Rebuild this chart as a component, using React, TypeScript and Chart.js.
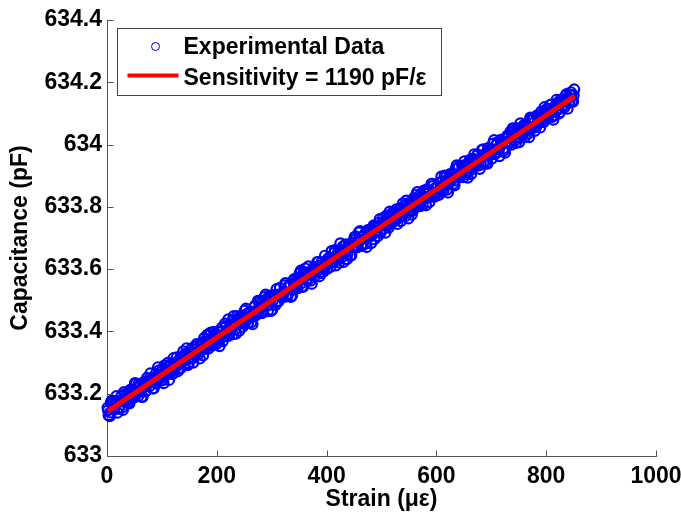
import React, { useEffect, useRef } from "react";
import { Chart, registerables } from "chart.js";

Chart.register(...registerables);

// Measured strain (µε), run 1
const strainRun1: number[] = [
  1, 5, 9, 13, 17, 21, 25, 29, 33, 37,
  41, 45, 49, 53, 57, 61, 65, 69, 73, 77,
  81, 85, 89, 93, 97, 101, 105, 109, 113, 117,
  121, 125, 129, 133, 137, 141, 145, 149, 153, 157,
  161, 165, 169, 173, 177, 181, 185, 189, 193, 197,
  201, 205, 209, 213, 217, 221, 225, 229, 233, 237,
  241, 245, 249, 253, 257, 261, 265, 269, 273, 277,
  281, 285, 289, 293, 297, 301, 305, 309, 313, 317,
  321, 325, 329, 333, 337, 341, 345, 349, 353, 357,
  361, 365, 369, 373, 377, 381, 385, 389, 393, 397,
  401, 405, 409, 413, 417, 421, 425, 429, 433, 437,
  441, 445, 449, 453, 457, 461, 465, 469, 473, 477,
  481, 485, 489, 493, 497, 501, 505, 509, 513, 517,
  521, 525, 529, 533, 537, 541, 545, 549, 553, 557,
  561, 565, 569, 573, 577, 581, 585, 589, 593, 597,
  601, 605, 609, 613, 617, 621, 625, 629, 633, 637,
  641, 645, 649, 653, 657, 661, 665, 669, 673, 677,
  681, 685, 689, 693, 697, 701, 705, 709, 713, 717,
  721, 725, 729, 733, 737, 741, 745, 749, 753, 757,
  761, 765, 769, 773, 777, 781, 785, 789, 793, 797,
  801, 805, 809, 813, 817, 821, 825, 829, 833, 837,
  841, 845, 849,
];

// Measured capacitance (pF), run 1
const capacitanceRun1: number[] = [
  633.155, 633.128, 633.178, 633.149, 633.192, 633.152, 633.175, 633.148, 633.199, 633.181,
  633.169, 633.205, 633.198, 633.232, 633.193, 633.229, 633.190, 633.230, 633.251, 633.223,
  633.242, 633.217, 633.264, 633.285, 633.248, 633.243, 633.291, 633.269, 633.244, 633.292,
  633.314, 633.284, 633.272, 633.313, 633.306, 633.296, 633.346, 633.298, 633.332, 633.300,
  633.324, 633.358, 633.313, 633.353, 633.379, 633.354, 633.345, 633.396, 633.359, 633.392,
  633.388, 633.353, 633.412, 633.383, 633.417, 633.439, 633.404, 633.391, 633.421, 633.449,
  633.402, 633.448, 633.438, 633.473, 633.428, 633.462, 633.423, 633.480, 633.459, 633.495,
  633.492, 633.470, 633.518, 633.465, 633.499, 633.470, 633.517, 633.536, 633.498, 633.516,
  633.519, 633.555, 633.515, 633.548, 633.515, 633.568, 633.544, 633.560, 633.595, 633.543,
  633.602, 633.563, 633.588, 633.553, 633.606, 633.594, 633.623, 633.587, 633.603, 633.643,
  633.601, 633.627, 633.658, 633.623, 633.612, 633.654, 633.683, 633.640, 633.676, 633.632,
  633.676, 633.644, 633.673, 633.705, 633.671, 633.722, 633.675, 633.707, 633.671, 633.723,
  633.683, 633.736, 633.736, 633.706, 633.761, 633.730, 633.740, 633.772, 633.733, 633.763,
  633.783, 633.761, 633.745, 633.792, 633.770, 633.789, 633.820, 633.763, 633.810, 633.788,
  633.797, 633.847, 633.804, 633.825, 633.852, 633.805, 633.853, 633.836, 633.874, 633.833,
  633.859, 633.839, 633.897, 633.853, 633.884, 633.846, 633.905, 633.901, 633.869, 633.933,
  633.930, 633.901, 633.895, 633.933, 633.894, 633.951, 633.921, 633.969, 633.939, 633.933,
  633.936, 633.985, 633.967, 633.939, 633.983, 633.955, 634.014, 633.975, 633.989, 634.015,
  634.011, 633.974, 634.028, 634.008, 634.000, 634.051, 634.005, 634.035, 634.068, 634.031,
  634.024, 634.060, 634.024, 634.083, 634.082, 634.061, 634.081, 634.055, 634.099, 634.120,
  634.114, 634.097, 634.128, 634.080, 634.107, 634.135, 634.104, 634.137, 634.119, 634.162,
  634.134, 634.168, 634.138,
];

// Measured strain (µε), run 2
const strainRun2: number[] = [
  3, 7, 11, 15, 19, 23, 27, 31, 35, 39,
  43, 47, 51, 55, 59, 63, 67, 71, 75, 79,
  83, 87, 91, 95, 99, 103, 107, 111, 115, 119,
  123, 127, 131, 135, 139, 143, 147, 151, 155, 159,
  163, 167, 171, 175, 179, 183, 187, 191, 195, 199,
  203, 207, 211, 215, 219, 223, 227, 231, 235, 239,
  243, 247, 251, 255, 259, 263, 267, 271, 275, 279,
  283, 287, 291, 295, 299, 303, 307, 311, 315, 319,
  323, 327, 331, 335, 339, 343, 347, 351, 355, 359,
  363, 367, 371, 375, 379, 383, 387, 391, 395, 399,
  403, 407, 411, 415, 419, 423, 427, 431, 435, 439,
  443, 447, 451, 455, 459, 463, 467, 471, 475, 479,
  483, 487, 491, 495, 499, 503, 507, 511, 515, 519,
  523, 527, 531, 535, 539, 543, 547, 551, 555, 559,
  563, 567, 571, 575, 579, 583, 587, 591, 595, 599,
  603, 607, 611, 615, 619, 623, 627, 631, 635, 639,
  643, 647, 651, 655, 659, 663, 667, 671, 675, 679,
  683, 687, 691, 695, 699, 703, 707, 711, 715, 719,
  723, 727, 731, 735, 739, 743, 747, 751, 755, 759,
  763, 767, 771, 775, 779, 783, 787, 791, 795, 799,
  803, 807, 811, 815, 819, 823, 827, 831, 835, 839,
  843, 847, 851,
];

// Measured capacitance (pF), run 2
const capacitanceRun2: number[] = [
  633.131, 633.172, 633.152, 633.176, 633.139, 633.177, 633.155, 633.205, 633.174, 633.201,
  633.213, 633.186, 633.234, 633.201, 633.222, 633.190, 633.237, 633.209, 633.235, 633.265,
  633.217, 633.251, 633.235, 633.275, 633.271, 633.234, 633.271, 633.299, 633.267, 633.263,
  633.293, 633.317, 633.280, 633.300, 633.336, 633.328, 633.292, 633.330, 633.313, 633.350,
  633.359, 633.335, 633.360, 633.323, 633.344, 633.390, 633.372, 633.354, 633.399, 633.359,
  633.367, 633.400, 633.369, 633.425, 633.399, 633.394, 633.432, 633.449, 633.393, 633.432,
  633.446, 633.415, 633.467, 633.437, 633.461, 633.430, 633.464, 633.451, 633.498, 633.472,
  633.459, 633.510, 633.483, 633.510, 633.466, 633.515, 633.485, 633.517, 633.540, 633.511,
  633.548, 633.518, 633.544, 633.511, 633.562, 633.553, 633.538, 633.587, 633.544, 633.580,
  633.566, 633.609, 633.563, 633.600, 633.589, 633.623, 633.577, 633.622, 633.600, 633.622,
  633.635, 633.607, 633.633, 633.661, 633.633, 633.621, 633.660, 633.623, 633.680, 633.673,
  633.643, 633.685, 633.703, 633.674, 633.718, 633.677, 633.704, 633.682, 633.725, 633.709,
  633.728, 633.696, 633.718, 633.749, 633.721, 633.764, 633.717, 633.753, 633.785, 633.748,
  633.754, 633.792, 633.783, 633.754, 633.811, 633.770, 633.788, 633.813, 633.775, 633.828,
  633.838, 633.809, 633.839, 633.805, 633.827, 633.856, 633.815, 633.874, 633.838, 633.862,
  633.838, 633.879, 633.859, 633.900, 633.855, 633.894, 633.884, 633.874, 633.921, 633.895,
  633.901, 633.932, 633.946, 633.906, 633.939, 633.905, 633.954, 633.931, 633.968, 633.922,
  633.982, 633.942, 633.940, 633.979, 633.967, 634.003, 633.969, 634.006, 633.963, 634.000,
  633.980, 634.021, 634.003, 634.042, 634.052, 634.013, 634.052, 634.008, 634.036, 634.062,
  634.066, 634.035, 634.087, 634.052, 634.044, 634.093, 634.071, 634.106, 634.072, 634.091,
  634.085, 634.127, 634.089, 634.121, 634.144, 634.099, 634.139, 634.124, 634.156, 634.115,
  634.160, 634.140, 634.177,
];

// Measured strain (µε), run 3
const strainRun3: number[] = [
  2, 6, 10, 14, 18, 22, 26, 30, 34, 38,
  42, 46, 50, 54, 58, 62, 66, 70, 74, 78,
  82, 86, 90, 94, 98, 102, 106, 110, 114, 118,
  122, 126, 130, 134, 138, 142, 146, 150, 154, 158,
  162, 166, 170, 174, 178, 182, 186, 190, 194, 198,
  202, 206, 210, 214, 218, 222, 226, 230, 234, 238,
  242, 246, 250, 254, 258, 262, 266, 270, 274, 278,
  282, 286, 290, 294, 298, 302, 306, 310, 314, 318,
  322, 326, 330, 334, 338, 342, 346, 350, 354, 358,
  362, 366, 370, 374, 378, 382, 386, 390, 394, 398,
  402, 406, 410, 414, 418, 422, 426, 430, 434, 438,
  442, 446, 450, 454, 458, 462, 466, 470, 474, 478,
  482, 486, 490, 494, 498, 502, 506, 510, 514, 518,
  522, 526, 530, 534, 538, 542, 546, 550, 554, 558,
  562, 566, 570, 574, 578, 582, 586, 590, 594, 598,
  602, 606, 610, 614, 618, 622, 626, 630, 634, 638,
  642, 646, 650, 654, 658, 662, 666, 670, 674, 678,
  682, 686, 690, 694, 698, 702, 706, 710, 714, 718,
  722, 726, 730, 734, 738, 742, 746, 750, 754, 758,
  762, 766, 770, 774, 778, 782, 786, 790, 794, 798,
  802, 806, 810, 814, 818, 822, 826, 830, 834, 838,
  842, 846, 850,
];

// Measured capacitance (pF), run 3
const capacitanceRun3: number[] = [
  633.147, 633.140, 633.168, 633.154, 633.171, 633.156, 633.192, 633.176, 633.188, 633.171,
  633.185, 633.213, 633.189, 633.208, 633.232, 633.211, 633.230, 633.207, 633.242, 633.236,
  633.250, 633.242, 633.232, 633.260, 633.252, 633.281, 633.258, 633.276, 633.292, 633.274,
  633.275, 633.301, 633.300, 633.282, 633.320, 633.308, 633.324, 633.313, 633.345, 633.329,
  633.341, 633.325, 633.343, 633.366, 633.345, 633.363, 633.387, 633.357, 633.374, 633.388,
  633.378, 633.400, 633.400, 633.386, 633.403, 633.386, 633.422, 633.420, 633.406, 633.441,
  633.439, 633.429, 633.424, 633.456, 633.446, 633.461, 633.447, 633.484, 633.463, 633.476,
  633.464, 633.487, 633.502, 633.484, 633.515, 633.499, 633.516, 633.495, 633.519, 633.511,
  633.527, 633.512, 633.542, 633.552, 633.533, 633.557, 633.550, 633.574, 633.555, 633.590,
  633.590, 633.582, 633.571, 633.588, 633.577, 633.607, 633.599, 633.612, 633.592, 633.624,
  633.615, 633.637, 633.622, 633.652, 633.642, 633.631, 633.656, 633.673, 633.652, 633.649,
  633.678, 633.670, 633.693, 633.670, 633.692, 633.694, 633.680, 633.714, 633.704, 633.720,
  633.707, 633.741, 633.724, 633.735, 633.718, 633.750, 633.748, 633.738, 633.767, 633.754,
  633.776, 633.757, 633.777, 633.796, 633.775, 633.786, 633.808, 633.782, 633.803, 633.815,
  633.808, 633.824, 633.802, 633.835, 633.844, 633.829, 633.843, 633.832, 633.867, 633.845,
  633.865, 633.849, 633.879, 633.870, 633.897, 633.873, 633.892, 633.906, 633.885, 633.902,
  633.896, 633.914, 633.933, 633.912, 633.912, 633.942, 633.930, 633.948, 633.965, 633.948,
  633.957, 633.942, 633.972, 633.989, 633.968, 633.983, 633.971, 634.000, 633.984, 634.008,
  633.987, 634.008, 634.024, 634.006, 634.028, 634.043, 634.024, 634.045, 634.022, 634.049,
  634.057, 634.049, 634.048, 634.079, 634.071, 634.058, 634.090, 634.081, 634.094, 634.082,
  634.094, 634.115, 634.111, 634.094, 634.125, 634.113, 634.144, 634.125, 634.146, 634.145,
  634.138, 634.160, 634.158,
];

// Linear fit endpoints
const fitStrain: number[] = [2, 852];
const fitCapacitance: number[] = [633.144, 634.156];

const xTicks: number[] = [0, 200, 400, 600, 800, 1000];
const yTicks: number[] = [633, 633.2, 633.4, 633.6, 633.8, 634, 634.2, 634.4];

const legendLabels: string[] = ["Experimental Data", "Sensitivity = 1190 pF/\u03b5"];
const xTitle = "Strain (\u03bc\u03b5)";
const yTitle = "Capacitance (pF)";

const FONT = "'Liberation Sans', Arial, Helvetica, sans-serif";
const FONT_SIZE = 23;
const AXIS_COLOR = "#555555";

const inwardTicks = {
  id: "inwardTicks",
  afterDatasetsDraw(chart: any) {
    const { ctx, scales } = chart;
    const x = scales.x;
    const y = scales.y;
    ctx.save();
    ctx.strokeStyle = AXIS_COLOR;
    ctx.lineWidth = 1;
    ctx.beginPath();
    for (const v of xTicks) {
      const px = Math.round(x.getPixelForValue(v)) + 0.5;
      const py = Math.round(y.bottom) + 0.5;
      ctx.moveTo(px, py);
      ctx.lineTo(px, py - 6);
    }
    for (const v of yTicks) {
      const py = Math.round(y.getPixelForValue(v)) + 0.5;
      const px = Math.round(x.left) + 0.5;
      ctx.moveTo(px, py);
      ctx.lineTo(px + 6, py);
    }
    ctx.stroke();
    ctx.restore();
  },
};

const customLegend = {
  id: "customLegend",
  afterDraw(chart: any) {
    const { ctx, chartArea } = chart;
    const bx = chartArea.left + 10.5;
    const by = chartArea.top + 8.5;
    const bw = 324;
    const bh = 67;
    ctx.save();
    ctx.fillStyle = "#ffffff";
    ctx.fillRect(bx, by, bw, bh);
    ctx.strokeStyle = "#444444";
    ctx.lineWidth = 1;
    ctx.strokeRect(bx, by, bw, bh);

    ctx.beginPath();
    ctx.arc(bx + 38, by + 18, 4, 0, Math.PI * 2);
    ctx.strokeStyle = "#0000ff";
    ctx.lineWidth = 1;
    ctx.stroke();

    ctx.beginPath();
    ctx.moveTo(bx + 10, by + 47);
    ctx.lineTo(bx + 61, by + 47);
    ctx.strokeStyle = "#ff0000";
    ctx.lineWidth = 4;
    ctx.stroke();

    ctx.fillStyle = "#000000";
    ctx.font = `bold ${FONT_SIZE}px ${FONT}`;
    ctx.textAlign = "left";
    ctx.textBaseline = "middle";
    ctx.fillText(legendLabels[0], bx + 66, by + 19);
    ctx.fillText(legendLabels[1], bx + 66, by + 50);
    ctx.restore();
  },
};

export default function App() {
  const canvasRef = useRef<HTMLCanvasElement | null>(null);

  useEffect(() => {
    const canvas = canvasRef.current;
    if (!canvas) return;
    const scatterPoints = [
      ...strainRun1.map((s, i) => ({ x: s, y: capacitanceRun1[i] })),
      ...strainRun3.map((s, i) => ({ x: s, y: capacitanceRun3[i] })),
      ...strainRun2.map((s, i) => ({ x: s, y: capacitanceRun2[i] })),
    ].sort((a, b) => a.x - b.x);
    const fitPoints = fitStrain.map((s, i) => ({ x: s, y: fitCapacitance[i] }));

    const chart = new Chart(canvas, {
      type: "scatter",
      data: {
        datasets: [
          {
            label: legendLabels[1],
            data: fitPoints,
            showLine: true,
            borderColor: "#ff0000",
            backgroundColor: "#ff0000",
            borderWidth: 5,
            pointRadius: 0,
            clip: false,
            order: 0,
          } as any,
          {
            label: legendLabels[0],
            data: scatterPoints,
            pointStyle: "circle",
            pointRadius: 5,
            borderColor: "#0000ff",
            backgroundColor: "rgba(0,0,0,0)",
            borderWidth: 2.2,
            clip: false,
            order: 1,
          } as any,
        ],
      },
      options: {
        responsive: false,
        animation: false,
        devicePixelRatio: 1,
        layout: { padding: { left: 0, right: 25, top: 20, bottom: 0 } },
        plugins: {
          legend: { display: false },
          tooltip: { enabled: false },
          title: { display: false },
        },
        scales: {
          x: {
            type: "linear",
            min: 0,
            max: 1000,
            afterBuildTicks: (scale: any) => {
              scale.ticks = xTicks.map((v) => ({ value: v }));
            },
            afterFit: (scale: any) => {
              scale.height = 61;
              scale.paddingLeft = 0;
              scale.paddingRight = 0;
            },
            grid: { display: false, drawTicks: false },
            border: { display: true, color: AXIS_COLOR, width: 1 },
            ticks: {
              color: "#000000",
              font: { family: FONT, size: FONT_SIZE, weight: "bold" },
              padding: 7,
              maxRotation: 0,
              autoSkip: false,
              callback: (v: any) => String(v),
            },
            title: {
              display: true,
              text: xTitle,
              color: "#000000",
              font: { family: FONT, size: FONT_SIZE, weight: "bold" },
              padding: { top: 0, bottom: 4 },
            },
          },
          y: {
            type: "linear",
            min: 633,
            max: 634.4,
            afterBuildTicks: (scale: any) => {
              scale.ticks = yTicks.map((v) => ({ value: v }));
            },
            afterFit: (scale: any) => {
              scale.width = 107;
              scale.paddingTop = 0;
              scale.paddingBottom = 0;
            },
            grid: { display: false, drawTicks: false },
            border: { display: true, color: AXIS_COLOR, width: 1 },
            ticks: {
              color: "#000000",
              font: { family: FONT, size: FONT_SIZE, weight: "bold" },
              padding: 5,
              autoSkip: false,
              callback: (v: any) => String(Number(Number(v).toFixed(1))),
            },
            title: {
              display: true,
              text: yTitle,
              color: "#000000",
              font: { family: FONT, size: FONT_SIZE, weight: "bold" },
              padding: { top: 7, bottom: 0 },
            },
          },
        },
      } as any,
      plugins: [inwardTicks, customLegend],
    });
    return () => chart.destroy();
  }, []);

  return (
    <div style={{ position: "absolute", left: 0, top: 0, width: 681, height: 517, background: "#ffffff" }}>
      <canvas ref={canvasRef} width={681} height={517} style={{ width: 681, height: 517, display: "block" }} />
    </div>
  );
}
